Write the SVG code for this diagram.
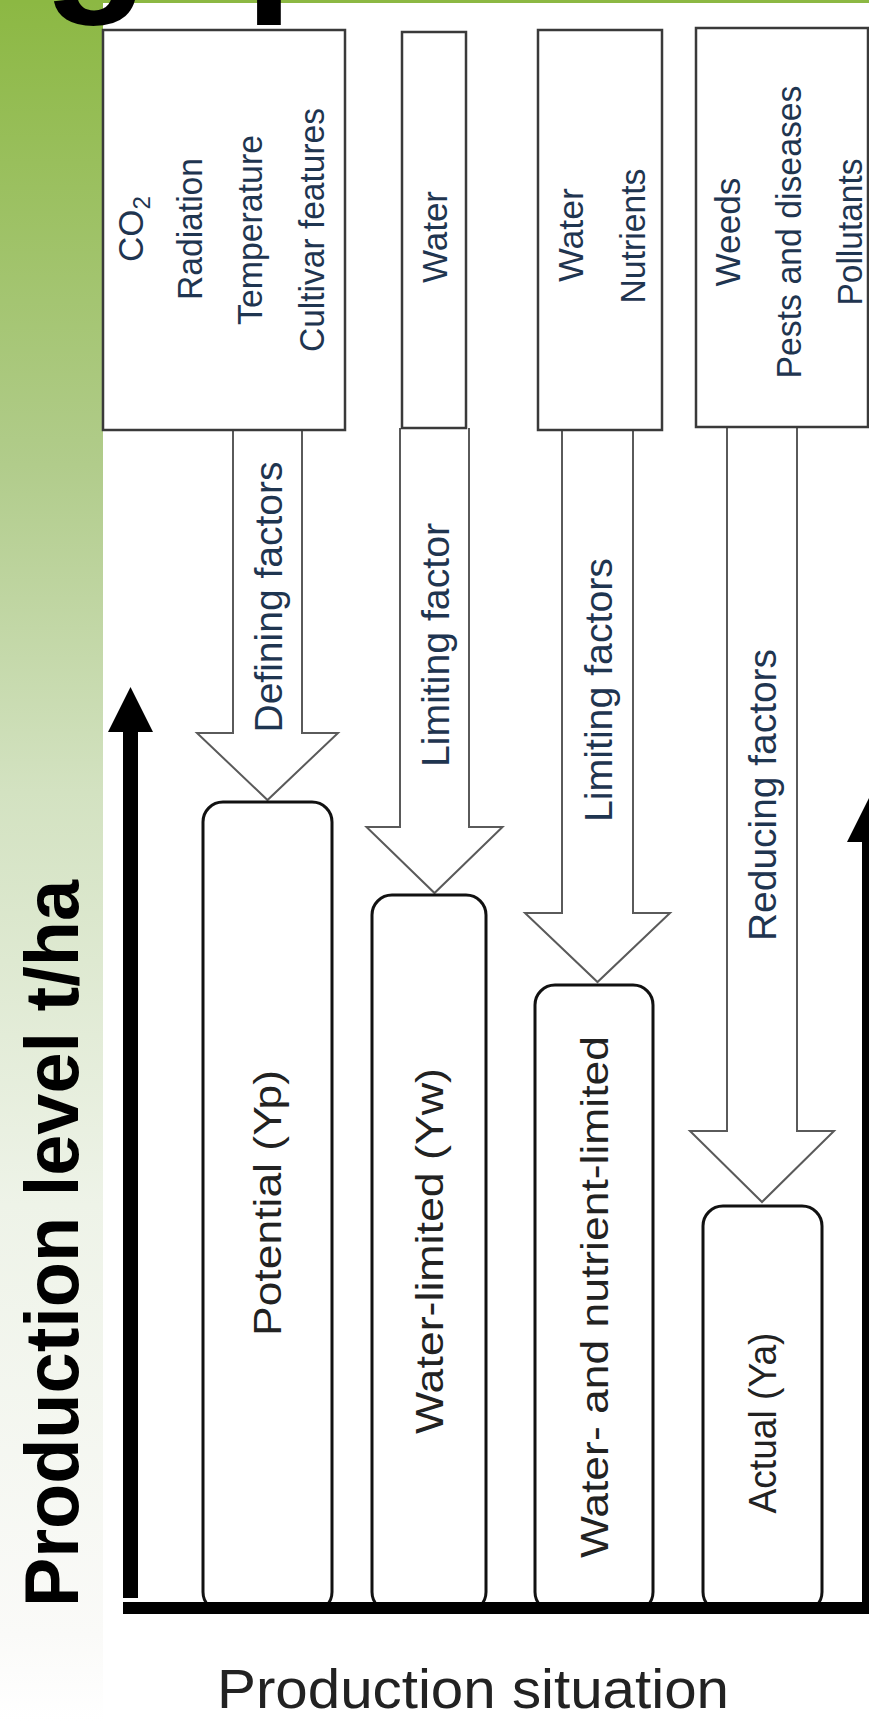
<svg xmlns="http://www.w3.org/2000/svg" width="869" height="1721" viewBox="0 0 869 1721">
<defs>
<linearGradient id="side" x1="0" y1="0" x2="0" y2="1721" gradientUnits="userSpaceOnUse">
<stop offset="0" stop-color="#8cb843"/>
<stop offset="0.27" stop-color="#b1cc8b"/>
<stop offset="0.46" stop-color="#d3e2c1"/>
<stop offset="0.7" stop-color="#eef3e8"/>
<stop offset="0.95" stop-color="#fafaf8"/>
<stop offset="1" stop-color="#ffffff"/>
</linearGradient>
</defs>
<style>
.fbox{fill:#fff;stroke:#3a3a3a;stroke-width:2.5}
.arr{fill:#fff;stroke:#5a5a5a;stroke-width:2}
.yld{fill:#fff;stroke:#111;stroke-width:3}
.fac{font-family:"Liberation Sans",Arial,sans-serif;font-size:35px;fill:#1f3550}
.alab{font-family:"Liberation Sans",Arial,sans-serif;font-size:39px;fill:#1f3550}
.ylab{font-family:"Liberation Sans",Arial,sans-serif;font-size:39px;fill:#222}
.axis{fill:#000}
</style>
<rect x="0" y="0" width="869" height="1721" fill="#fff"/>
<rect x="0" y="0" width="103" height="1721" fill="url(#side)"/>
<rect x="0" y="0" width="869" height="3" fill="#8cb843"/>
<text x="43" y="-11" font-family="Liberation Sans,Arial,sans-serif" font-weight="bold" font-size="173" fill="#000">gap</text>

<g id="connectors">
<path class="arr" d="M233,430 V733 H197 L267.5,800 L338,733 H302 V430"/>
<path class="arr" d="M400,428 V827 H366.5 L434.5,893 L502.5,827 H469 V428"/>
<path class="arr" d="M562,430 V913 H525 L597.5,982 L670,913 H633 V430"/>
<path class="arr" d="M727,427 V1131 H690 L762,1202 L834,1131 H797 V427"/>
<text class="alab" transform="translate(281.5,597) rotate(-90)" text-anchor="middle" textLength="271" lengthAdjust="spacingAndGlyphs">Defining factors</text>
<text class="alab" transform="translate(448.5,645) rotate(-90)" text-anchor="middle" textLength="244" lengthAdjust="spacingAndGlyphs">Limiting factor</text>
<text class="alab" transform="translate(611.5,690) rotate(-90)" text-anchor="middle" textLength="264" lengthAdjust="spacingAndGlyphs">Limiting factors</text>
<text class="alab" transform="translate(776,795) rotate(-90)" text-anchor="middle" textLength="292" lengthAdjust="spacingAndGlyphs">Reducing factors</text>
</g>

<g id="factors-defining">
<rect class="fbox" x="103" y="30" width="242" height="400"/>
<text class="fac" transform="translate(143,229) rotate(-90)" text-anchor="middle">CO<tspan font-size="24" dy="7">2</tspan></text>
<text class="fac" transform="translate(202,229) rotate(-90)" text-anchor="middle" textLength="142" lengthAdjust="spacingAndGlyphs">Radiation</text>
<text class="fac" transform="translate(262,230) rotate(-90)" text-anchor="middle" textLength="190" lengthAdjust="spacingAndGlyphs">Temperature</text>
<text class="fac" transform="translate(324,230) rotate(-90)" text-anchor="middle" textLength="244" lengthAdjust="spacingAndGlyphs">Cultivar features</text>
</g>

<g id="factors-water">
<rect class="fbox" x="402" y="32" width="64" height="396"/>
<text class="fac" transform="translate(447,237) rotate(-90)" text-anchor="middle" textLength="92" lengthAdjust="spacingAndGlyphs">Water</text>
</g>

<g id="factors-water-nutrients">
<rect class="fbox" x="538" y="30" width="124" height="400"/>
<text class="fac" transform="translate(583,235) rotate(-90)" text-anchor="middle" textLength="94" lengthAdjust="spacingAndGlyphs">Water</text>
<text class="fac" transform="translate(645,236) rotate(-90)" text-anchor="middle" textLength="135" lengthAdjust="spacingAndGlyphs">Nutrients</text>
</g>

<g id="factors-reducing">
<rect class="fbox" x="696" y="28" width="172" height="399"/>
<text class="fac" transform="translate(740,232) rotate(-90)" text-anchor="middle" textLength="109" lengthAdjust="spacingAndGlyphs">Weeds</text>
<text class="fac" transform="translate(801,232) rotate(-90)" text-anchor="middle" textLength="293" lengthAdjust="spacingAndGlyphs">Pests and diseases</text>
<text class="fac" transform="translate(862,232) rotate(-90)" text-anchor="middle" textLength="147" lengthAdjust="spacingAndGlyphs">Pollutants</text>
</g>

<g id="yield-potential">
<rect class="yld" x="203" y="802" width="129" height="810" rx="20" ry="20"/>
<text class="ylab" transform="translate(281,1203) rotate(-90)" text-anchor="middle" textLength="266" lengthAdjust="spacingAndGlyphs">Potential (Yp)</text>
</g>

<g id="yield-water-limited">
<rect class="yld" x="372" y="895" width="114" height="717" rx="20" ry="20"/>
<text class="ylab" transform="translate(443,1251) rotate(-90)" text-anchor="middle" textLength="366" lengthAdjust="spacingAndGlyphs">Water-limited (Yw)</text>
</g>

<g id="yield-water-nutrient-limited">
<rect class="yld" x="535" y="985" width="118" height="627" rx="20" ry="20"/>
<text class="ylab" transform="translate(608,1297) rotate(-90)" text-anchor="middle" textLength="522" lengthAdjust="spacingAndGlyphs">Water- and nutrient-limited</text>
</g>

<g id="yield-actual">
<rect class="yld" x="703" y="1206" width="119" height="406" rx="20" ry="20"/>
<text class="ylab" transform="translate(776,1423) rotate(-90)" text-anchor="middle" textLength="181" lengthAdjust="spacingAndGlyphs">Actual (Ya)</text>
</g>

<g id="axes">
<rect class="axis" x="123" y="730" width="15" height="868"/>
<polygon class="axis" points="130.5,687 153,732 108,732"/>
<rect class="axis" x="123" y="1602" width="746" height="12"/>
<rect class="axis" x="862" y="840" width="15" height="770"/>
<polygon class="axis" points="869.5,797 892,842 847,842"/>
<text transform="translate(78,1243.5) rotate(-90)" text-anchor="middle" font-family="Liberation Sans,Arial,sans-serif" font-weight="bold" font-size="76" fill="#000" textLength="727" lengthAdjust="spacingAndGlyphs">Production level t/ha</text>
<text x="217" y="1708" font-family="Liberation Sans,Arial,sans-serif" font-size="56" fill="#222" textLength="512" lengthAdjust="spacingAndGlyphs">Production situation</text>
</g>
</svg>
